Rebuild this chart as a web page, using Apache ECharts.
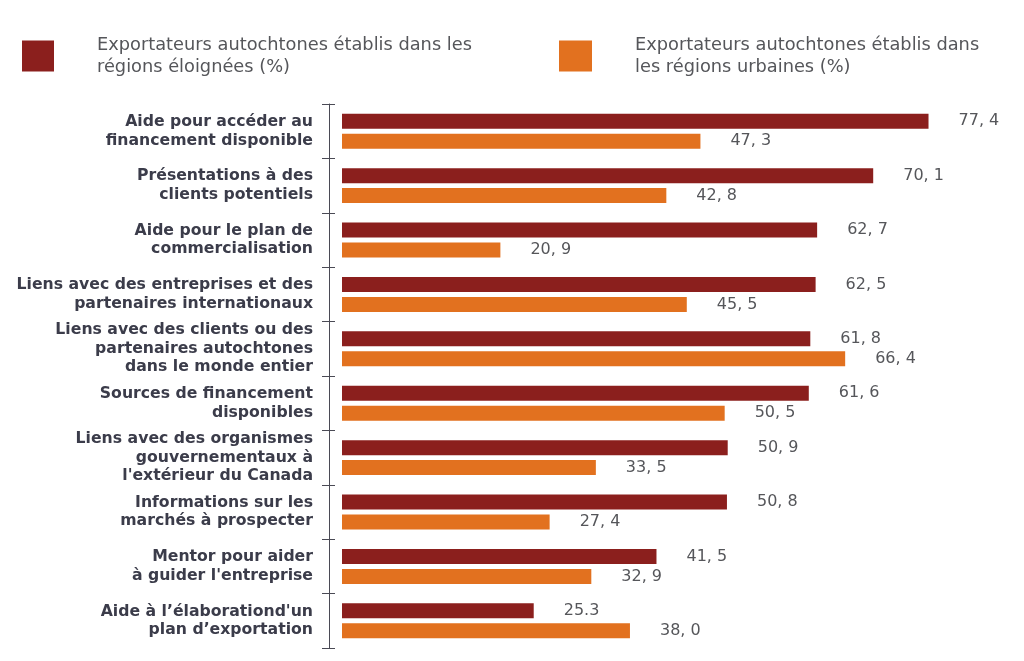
<!DOCTYPE html>
<html><head><meta charset="utf-8">
<script src="https://cdn.jsdelivr.net/npm/echarts@6/dist/echarts.min.js"></script>
<style>html,body{margin:0;padding:0;background:#fff}#c{width:1024px;height:661px}</style>
</head><body><div id="c"></div>
<script>
const categories = [
  "Aide pour accéder au\nfinancement disponible",
  "Présentations à des\nclients potentiels",
  "Aide pour le plan de\ncommercialisation",
  "Liens avec des entreprises et des\npartenaires internationaux",
  "Liens avec des clients ou des\npartenaires autochtones\ndans le monde entier",
  "Sources de financement\ndisponibles",
  "Liens avec des organismes\ngouvernementaux à\nl'extérieur du Canada",
  "Informations sur les\nmarchés à prospecter",
  "Mentor pour aider\nà guider l'entreprise",
  "Aide à l’élaborationd'un\nplan d’exportation"
];
const remoteName = "Exportateurs autochtones établis dans les\nrégions éloignées (%)";
const urbanName = "Exportateurs autochtones établis dans\nles régions urbaines (%)";
const remoteValues = [77.4, 70.1, 62.7, 62.5, 61.8, 61.6, 50.9, 50.8, 41.5, 25.3];
const urbanValues = [47.3, 42.8, 20.9, 45.5, 66.4, 50.5, 33.5, 27.4, 32.9, 38.0];
const remoteLabels = ["77, 4","70, 1","62, 7","62, 5","61, 8","61, 6","50, 9","50, 8","41, 5","25.3"];
const urbanLabels = ["47, 3","42, 8","20, 9","45, 5","66, 4","50, 5","33, 5","27, 4","32, 9","38, 0"];

const FONT = "'DejaVu Sans', sans-serif";
const chart = echarts.init(document.getElementById('c'), null, {renderer:'canvas'});
const legendText = {fontFamily: FONT, fontSize: 17.8, color: '#55565a', lineHeight: 22, padding:[0,0,0,38]};
chart.setOption({
  animation: false,
  legend: [
    {data:[remoteName], left: 22, top: 34, padding: 0, itemWidth: 32, itemHeight: 31, icon: 'rect', textStyle: legendText, selectedMode:false},
    {data:[urbanName], left: 559, top: 34, padding: 0, itemWidth: 33, itemHeight: 31, icon: 'rect', textStyle: legendText, selectedMode:false}
  ],
  grid: {left: 342, right: 0, top: 104, bottom: 13, containLabel: false},
  xAxis: {type:'value', min:0, max:90, show:false},
  yAxis: [
    {type:'category', data: categories, inverse:true, offset: 13,
     axisLine:{show:true, onZero:false, lineStyle:{color:'#4a4a55', width:1}},
     axisTick:{show:true, length:7, lineStyle:{color:'#4a4a55'}},
     axisLabel:{fontFamily: FONT, fontWeight:'bold', fontSize:15.7, color:'#3b3c4a', margin:16, lineHeight:18.5, align:'right'}},
    {type:'category', data: categories, inverse:true, offset: 13, position:'left',
     axisLine:{show:false, onZero:false},
     axisTick:{show:true, inside:true, length:6, lineStyle:{color:'#4a4a55'}},
     axisLabel:{show:false}}
  ],
  series: [
    {name: remoteName, type:'bar', data: remoteValues, barWidth: 15, barGap:'33%',
     itemStyle:{color:'#8b1f1d'},
     label:{show:true, position:'right', distance:30, fontFamily: FONT, fontSize:16, color:'#55565a',
            formatter: p => remoteLabels[p.dataIndex]}},
    {name: urbanName, type:'bar', data: urbanValues, barWidth: 15, barGap:'33%',
     itemStyle:{color:'#e2711f'},
     label:{show:true, position:'right', distance:30, fontFamily: FONT, fontSize:16, color:'#55565a',
            formatter: p => urbanLabels[p.dataIndex]}}
  ]
});
</script></body></html>
